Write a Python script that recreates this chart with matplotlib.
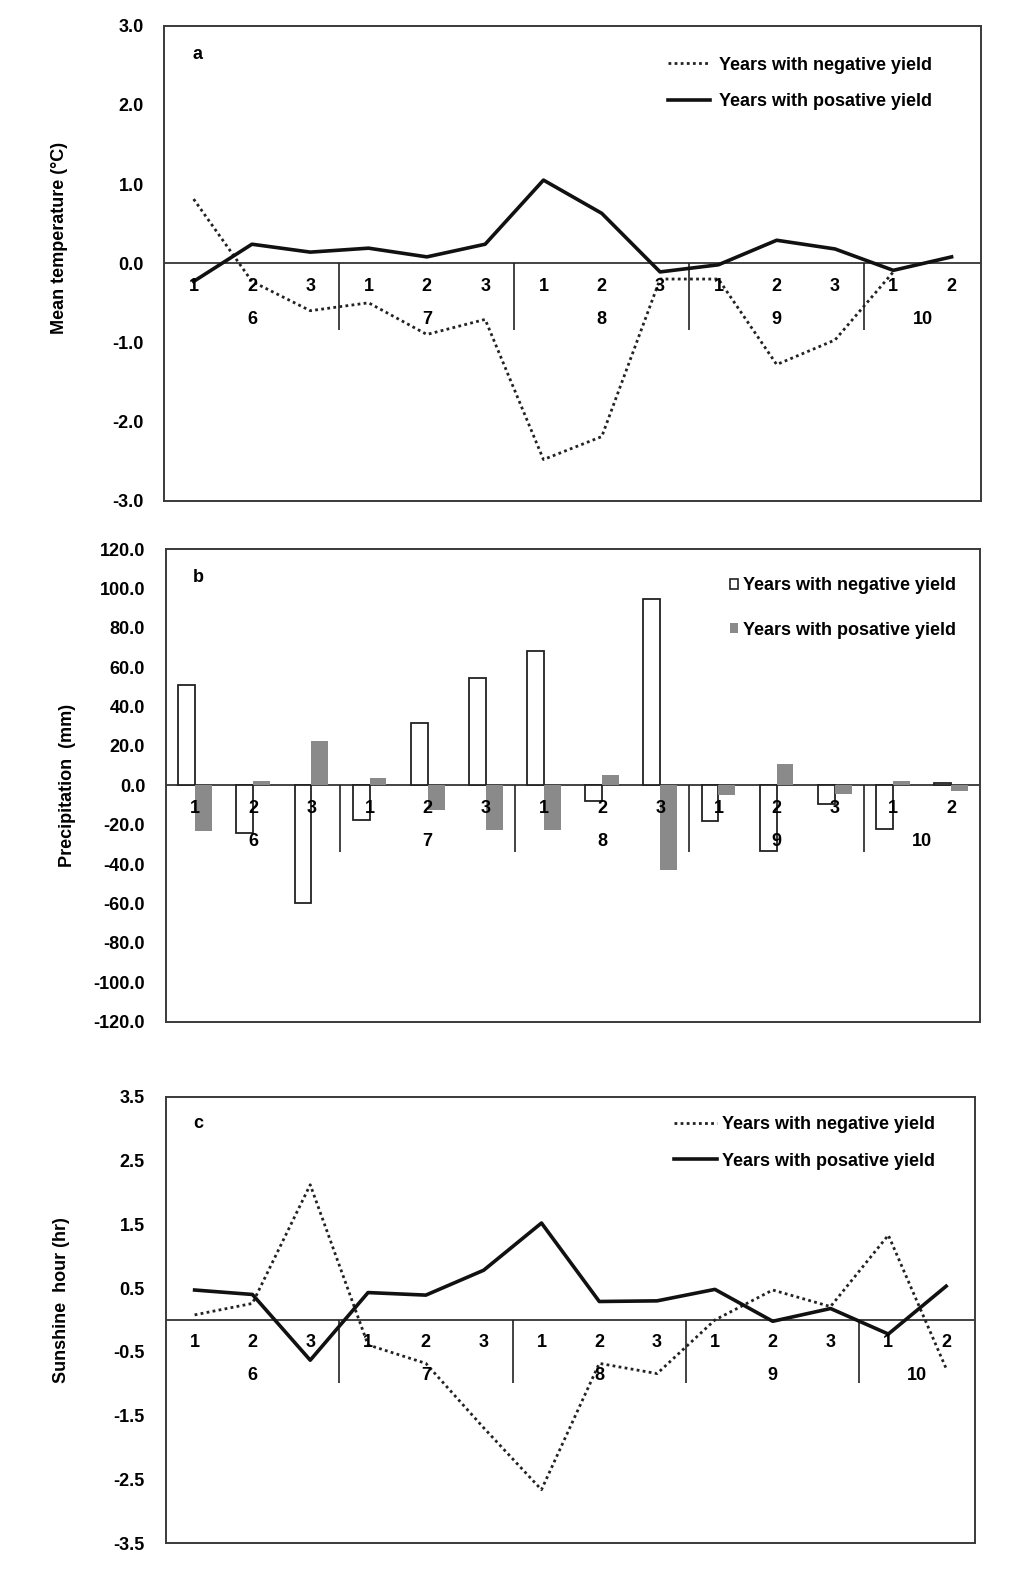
import numpy as np
import matplotlib.pyplot as plt
from matplotlib.lines import Line2D
from matplotlib.patches import Patch

plt.rcParams['font.family'] = ['Liberation Sans', 'DejaVu Sans']
plt.rcParams['font.weight'] = 'bold'
plt.rcParams['axes.unicode_minus'] = False

months = ['6', '7', '8', '9', '10']
month_sizes = [3, 3, 3, 3, 2]
dekads = ['1', '2', '3', '1', '2', '3', '1', '2', '3', '1', '2', '3', '1', '2']

# a: mean temperature anomaly (C)
temp_neg = [0.81, -0.23, -0.60, -0.50, -0.90, -0.71, -2.48, -2.19, -0.20, -0.20, -1.28, -0.97, -0.11, np.nan]
temp_pos = [-0.23, 0.24, 0.14, 0.19, 0.08, 0.24, 1.05, 0.63, -0.11, -0.02, 0.29, 0.18, -0.09, 0.08]

# b: precipitation anomaly (mm)
prec_neg = [50.8, -24.1, -59.8, -17.4, 31.9, 54.7, 68.2, -8.0, 94.5, -18.1, -33.4, -9.7, -22.4, 1.2]
prec_pos = [-23.2, 2.2, 22.5, 3.7, -12.7, -22.5, -22.5, 5.1, -43.2, -5.1, 11.0, -4.6, 2.2, -2.9]

# c: sunshine hour anomaly (hr)
sun_neg = [0.08, 0.26, 2.12, -0.39, -0.68, -1.69, -2.66, -0.68, -0.84, 0.0, 0.47, 0.21, 1.33, -0.76]
sun_pos = [0.47, 0.40, -0.63, 0.43, 0.39, 0.78, 1.52, 0.29, 0.30, 0.48, -0.02, 0.18, -0.22, 0.53]

lab_neg = 'Years with negative yield'
lab_pos = 'Years with posative yield'

x = np.arange(len(dekads))
fs = 13
edge = '#3a3a3a'
dots = (0, (1, 1.2))


def style_axes(ax, ylim, yticks, letter):
    ax.set_xlim(-0.5, len(dekads) - 0.5)
    ax.set_ylim(*ylim)
    ax.set_yticks(yticks)
    ax.set_yticklabels(['%.1f' % v for v in yticks], fontsize=fs, fontweight='bold')
    ax.tick_params(axis='y', length=0, pad=15)
    ax.set_xticks([])
    for s in ax.spines.values():
        s.set_linewidth(1.4)
        s.set_color(edge)
    ax.axhline(0, color='#222222', lw=1.2, zorder=1)
    # two-level category axis: dekad on top, month below
    bounds = np.cumsum(month_sizes)[:-1] - 0.5
    ax.vlines(bounds, 0.36, 0.5, transform=ax.get_xaxis_transform(), color='#222222', lw=1.2)
    for xi, d in zip(x, dekads):
        ax.annotate(d, (xi, 0), xytext=(0, -23), textcoords='offset pixels',
                    ha='center', va='center', fontsize=fs, fontweight='bold', zorder=5)
    start = 0
    for m, n in zip(months, month_sizes):
        ax.annotate(m, (start + (n - 1) / 2, 0), xytext=(0, -56), textcoords='offset pixels',
                    ha='center', va='center', fontsize=fs, fontweight='bold', zorder=5)
        start += n
    ax.text(0.04, 0.94, letter, transform=ax.transAxes, fontsize=fs, fontweight='bold',
            ha='center', va='center')


fig = plt.figure(figsize=(10.16, 15.78), dpi=100)
ax1 = fig.add_axes([0.1619, 0.6827, 0.8034, 0.3010])
ax2 = fig.add_axes([0.1634, 0.3526, 0.8012, 0.2994])
ax3 = fig.add_axes([0.1631, 0.0220, 0.7966, 0.2830])

# panel a
ax1.plot(x, temp_neg, color='#222222', lw=2.0, ls=dots, zorder=3)
ax1.plot(x, temp_pos, color='#111111', lw=2.6, zorder=4)
style_axes(ax1, (-3, 3), np.arange(-3, 3.01, 1.0), 'a')
ax1.set_ylabel('Mean temperature (°C)', fontsize=fs, fontweight='bold')
ax1.yaxis.set_label_coords(-0.118, 0.553)
h = [Line2D([], [], color='#222222', lw=2.0, ls=dots), Line2D([], [], color='#111111', lw=2.6)]
ax1.legend(h, [lab_neg, lab_pos], loc='upper right', bbox_to_anchor=(0.94, 0.935), frameon=False,
           borderpad=0, borderaxespad=0, handlelength=2.3, handletextpad=0.5, labelspacing=1.1,
           prop={'size': fs, 'weight': 'bold'})

# panel b
w = 0.29
ax2.bar(x - w / 2, prec_neg, width=w, facecolor='white', edgecolor='#222222', lw=1.3, zorder=2)
ax2.bar(x + w / 2, prec_pos, width=w, facecolor='#8a8a8a', edgecolor='none', zorder=2)
style_axes(ax2, (-120, 120), np.arange(-120, 120.1, 20), 'b')
ax2.set_ylabel('Precipitation  (mm)', fontsize=fs, fontweight='bold')
ax2.yaxis.set_label_coords(-0.110, 0.5)
h = [Patch(facecolor='white', edgecolor='#222222', lw=1.2), Patch(facecolor='#8a8a8a', edgecolor='none')]
ax2.legend(h, [lab_neg, lab_pos], loc='upper right', bbox_to_anchor=(0.97, 0.94), frameon=False,
           borderpad=0, borderaxespad=0, handlelength=0.45, handleheight=0.45, handletextpad=0.25,
           labelspacing=1.5, prop={'size': fs, 'weight': 'bold'})

# panel c
ax3.plot(x, sun_neg, color='#222222', lw=2.0, ls=dots, zorder=3)
ax3.plot(x, sun_pos, color='#111111', lw=2.6, zorder=4)
style_axes(ax3, (-3.5, 3.5), np.arange(-3.5, 3.51, 1.0), 'c')
ax3.set_ylabel('Sunshine  hour (hr)', fontsize=fs, fontweight='bold')
ax3.yaxis.set_label_coords(-0.118, 0.545)
h = [Line2D([], [], color='#222222', lw=2.0, ls=dots), Line2D([], [], color='#111111', lw=2.6)]
ax3.legend(h, [lab_neg, lab_pos], loc='upper right', bbox_to_anchor=(0.951, 0.957), frameon=False,
           borderpad=0, borderaxespad=0, handlelength=2.4, handletextpad=0.3, labelspacing=1.1,
           prop={'size': fs, 'weight': 'bold'})

fig.savefig('out.png', dpi=100)
